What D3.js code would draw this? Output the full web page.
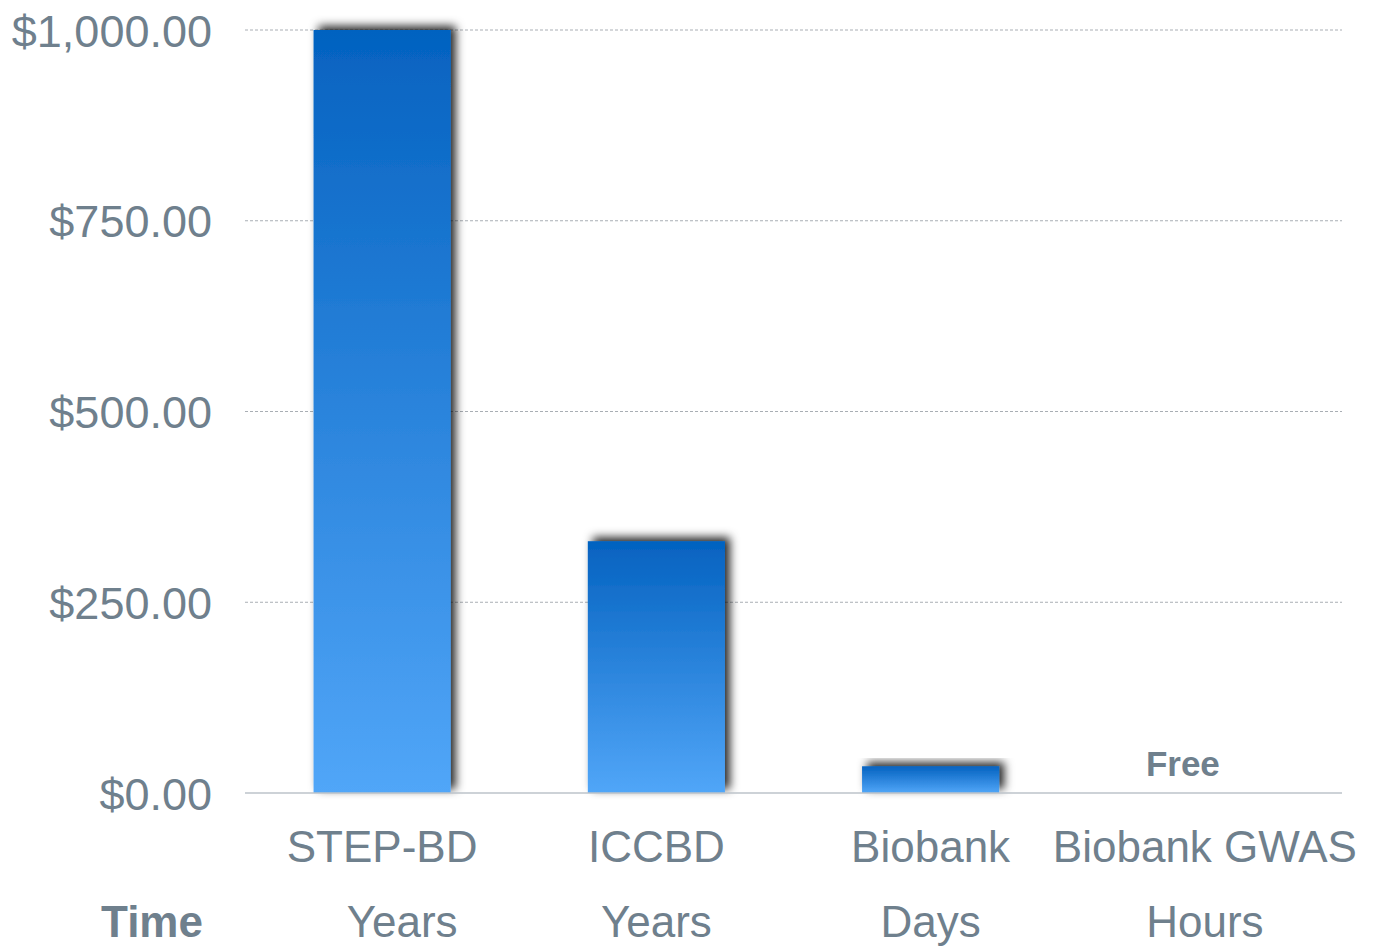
<!DOCTYPE html>
<html>
<head>
<meta charset="utf-8">
<script src="https://cdn.jsdelivr.net/npm/d3@7"></script>
<style>
  body { margin: 0; background: #fff; }
  text { font-family: "Liberation Sans", Helvetica, Arial, sans-serif; fill: #6f808d; }
</style>
</head>
<body>
<svg id="chart"></svg>
<script>
var categories = ["STEP-BD", "ICCBD", "Biobank", "Biobank GWAS"];
var costs = [1000, 330, 35, 0];
var times = ["Years", "Years", "Days", "Hours"];
var yTicks = [0, 250, 500, 750, 1000];
var freeLabel = "Free";

var svgWidth = 1374, svgHeight = 946;
var margin = { top: 30, right: 32, bottom: 153, left: 245 };
var width = svgWidth - margin.left - margin.right;
var height = svgHeight - margin.top - margin.bottom;

var svg = d3.select("#chart")
    .attr("width", svgWidth)
    .attr("height", svgHeight);

var defs = svg.append("defs");

var grad = defs.append("linearGradient")
    .attr("id", "barGrad")
    .attr("x1", 0).attr("y1", 0)
    .attr("x2", 0).attr("y2", 1);
grad.append("stop").attr("offset", "0%").attr("stop-color", "#0462c0");
grad.append("stop").attr("offset", "100%").attr("stop-color", "#51a6f8");

var shadow = defs.append("filter")
    .attr("id", "shadow")
    .attr("x", "-20%").attr("y", "-30%")
    .attr("width", "150%").attr("height", "160%");
shadow.append("feDropShadow")
    .attr("dx", 5)
    .attr("dy", -4)
    .attr("stdDeviation", 5)
    .attr("flood-color", "#000")
    .attr("flood-opacity", 0.85);

var g = svg.append("g")
    .attr("transform", "translate(" + margin.left + "," + margin.top + ")");

var x = d3.scaleBand()
    .domain(categories)
    .range([0, width])
    .paddingInner(0.5)
    .paddingOuter(0.25);

var y = d3.scaleLinear()
    .domain([0, 1000])
    .range([height, 0]);

// gridlines
g.selectAll(".grid")
    .data(yTicks.filter(function(d) { return d > 0; }))
    .enter().append("line")
    .attr("x1", 0)
    .attr("x2", width)
    .attr("y1", function(d) { return y(d); })
    .attr("y2", function(d) { return y(d); })
    .attr("stroke", "#a9aeb4")
    .attr("stroke-width", 1)
    .attr("stroke-dasharray", "3,2");

// y axis labels
var yAxis = g.append("g")
    .call(d3.axisLeft(y)
        .tickValues(yTicks)
        .tickSize(0)
        .tickPadding(33)
        .tickFormat(function(d) { return "$" + d3.format(",.2f")(d); }));
yAxis.select(".domain").remove();
yAxis.selectAll("text")
    .style("font-size", "45px")
    .style("font-weight", 300)
    .attr("fill", "#6f808d")
    .attr("dy", "0.36em");

// bars
g.selectAll(".bar")
    .data(costs.map(function(v, i) { return { name: categories[i], value: v }; })
        .filter(function(d) { return d.value > 0; }))
    .enter().append("rect")
    .attr("x", function(d) { return x(d.name); })
    .attr("y", function(d) { return y(d.value); })
    .attr("width", x.bandwidth())
    .attr("height", function(d) { return y(0) - y(d.value); })
    .attr("fill", "url(#barGrad)")
    .attr("filter", "url(#shadow)");

// baseline
g.append("line")
    .attr("x1", 0)
    .attr("x2", width)
    .attr("y1", y(0))
    .attr("y2", y(0))
    .attr("stroke", "#bcc3ca")
    .attr("stroke-width", 1.5);

// "Free" label for zero bar
g.append("text")
    .attr("x", x(categories[3]) + x.bandwidth() / 2 - 22)
    .attr("y", y(0) - 17)
    .attr("text-anchor", "middle")
    .style("font-size", "35px")
    .style("font-weight", "bold")
    .text(freeLabel);

// category labels
g.selectAll(".cat")
    .data(categories)
    .enter().append("text")
    .attr("x", function(d) { return x(d) + x.bandwidth() / 2; })
    .attr("y", height + 69)
    .attr("text-anchor", "middle")
    .style("font-size", "44px")
    .style("font-weight", 300)
    .text(function(d) { return d; });

// time row
g.append("text")
    .attr("x", 152 - margin.left)
    .attr("y", height + 144)
    .attr("text-anchor", "middle")
    .style("font-size", "44px")
    .style("font-weight", "bold")
    .text("Time");

g.selectAll(".time")
    .data(times)
    .enter().append("text")
    .attr("x", function(d, i) { return x(categories[i]) + x.bandwidth() / 2 + (i === 0 ? 20 : 0); })
    .attr("y", height + 144)
    .attr("text-anchor", "middle")
    .style("font-size", "44px")
    .style("font-weight", 300)
    .text(function(d) { return d; });
</script>
</body>
</html>
